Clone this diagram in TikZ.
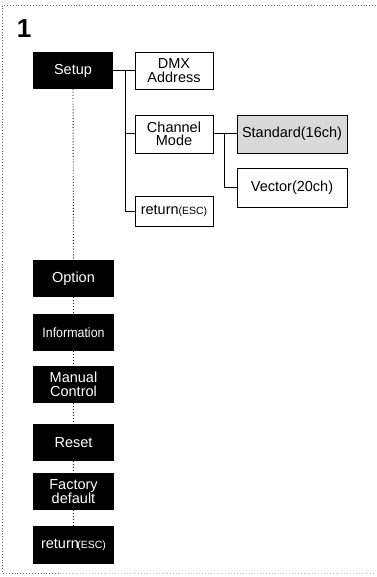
\documentclass[tikz,border=0pt]{standalone}
\usepackage{fontspec}
\setmainfont{Liberation Sans}
\begin{document}
\begin{tikzpicture}[x=1pt,y=-1pt,
  blk/.style={fill=black,text=white,inner sep=0pt,minimum width=81pt,minimum height=37pt,align=center,font=\fontsize{14.5}{13.5}\selectfont},
  wht/.style={draw=black,line width=0.7pt,fill=white,inner sep=0pt,minimum width=78pt,minimum height=37pt,align=center,font=\fontsize{14.5}{13.5}\selectfont},
  conn/.style={line width=1pt,black},
  dots/.style={line width=0.9pt,dotted,black},
  frame/.style={line width=0.9pt,dotted,black!60}
]
\useasboundingbox (0,0) rectangle (376,577);
% frame
\draw[frame] (376,5) -- (2.5,5) -- (2.5,573.5) -- (60,573.5);
\draw[frame,black!25] (60,573.5) -- (376,573.5);
\node[font=\fontsize{26}{26}\bfseries\selectfont,inner sep=0pt] (num) at (24,28.5) {1};
% left column
\node[blk,minimum width=80pt] (setup) at (73,70.5) {Setup};
\node[blk] (opt) at (73.5,278.5) {Option};
\node[blk,font=\fontsize{13.5}{13.5}\selectfont] (info) at (73.5,332.5) {\addfontfeatures{FakeStretch=0.92}Information};
\node[blk] (man) at (73.5,384.5) {Manual\\Control};
\node[blk] (reset) at (73.5,442.5) {Reset};
\node[blk] (fact) at (73.5,491.5) {Factory\\default};
\node[blk,minimum height=38pt] (ret2) at (73.5,545) {return\kern-1.5pt{\fontsize{10.5}{10.5}\selectfont(ESC)}};
% dotted spine
\foreach \a/\b in {setup/opt,opt/info,info/man,man/reset,reset/fact,fact/ret2}
  \draw[dots] (\a.south) -- (\b.north);
% right tree
\node[wht] (dmx) at (174,70.5) {DMX\\Address};
\node[wht,minimum height=38pt] (chan) at (174,134) {Channel\\Mode};
\node[wht,minimum height=30pt] (ret1) at (174,211) {return{\fontsize{10.5}{10.5}\selectfont(ESC)}};
\node[wht,fill=black!15,minimum width=110pt,minimum height=38pt] (std) at (292,134) {Standard(16ch)};
\node[wht,minimum width=110pt,minimum height=39pt] (vec) at (292,187.5) {Vector(20ch)};
\foreach \n in {dmx,chan,ret1,std,vec}
  \draw[line width=1.4pt] (\n.south west) -| (\n.north east);
\coordinate (b1) at (125,70.5);
\coordinate (c1) at (224,134);
\draw[conn] (setup.east) -- (dmx.west);
\draw[conn] (b1) |- (chan.west);
\draw[conn] (b1) |- (ret1.west);
\draw[conn] (chan.east) -- (std.west);
\draw[conn] (c1) |- (vec.west);
\end{tikzpicture}
\end{document}
